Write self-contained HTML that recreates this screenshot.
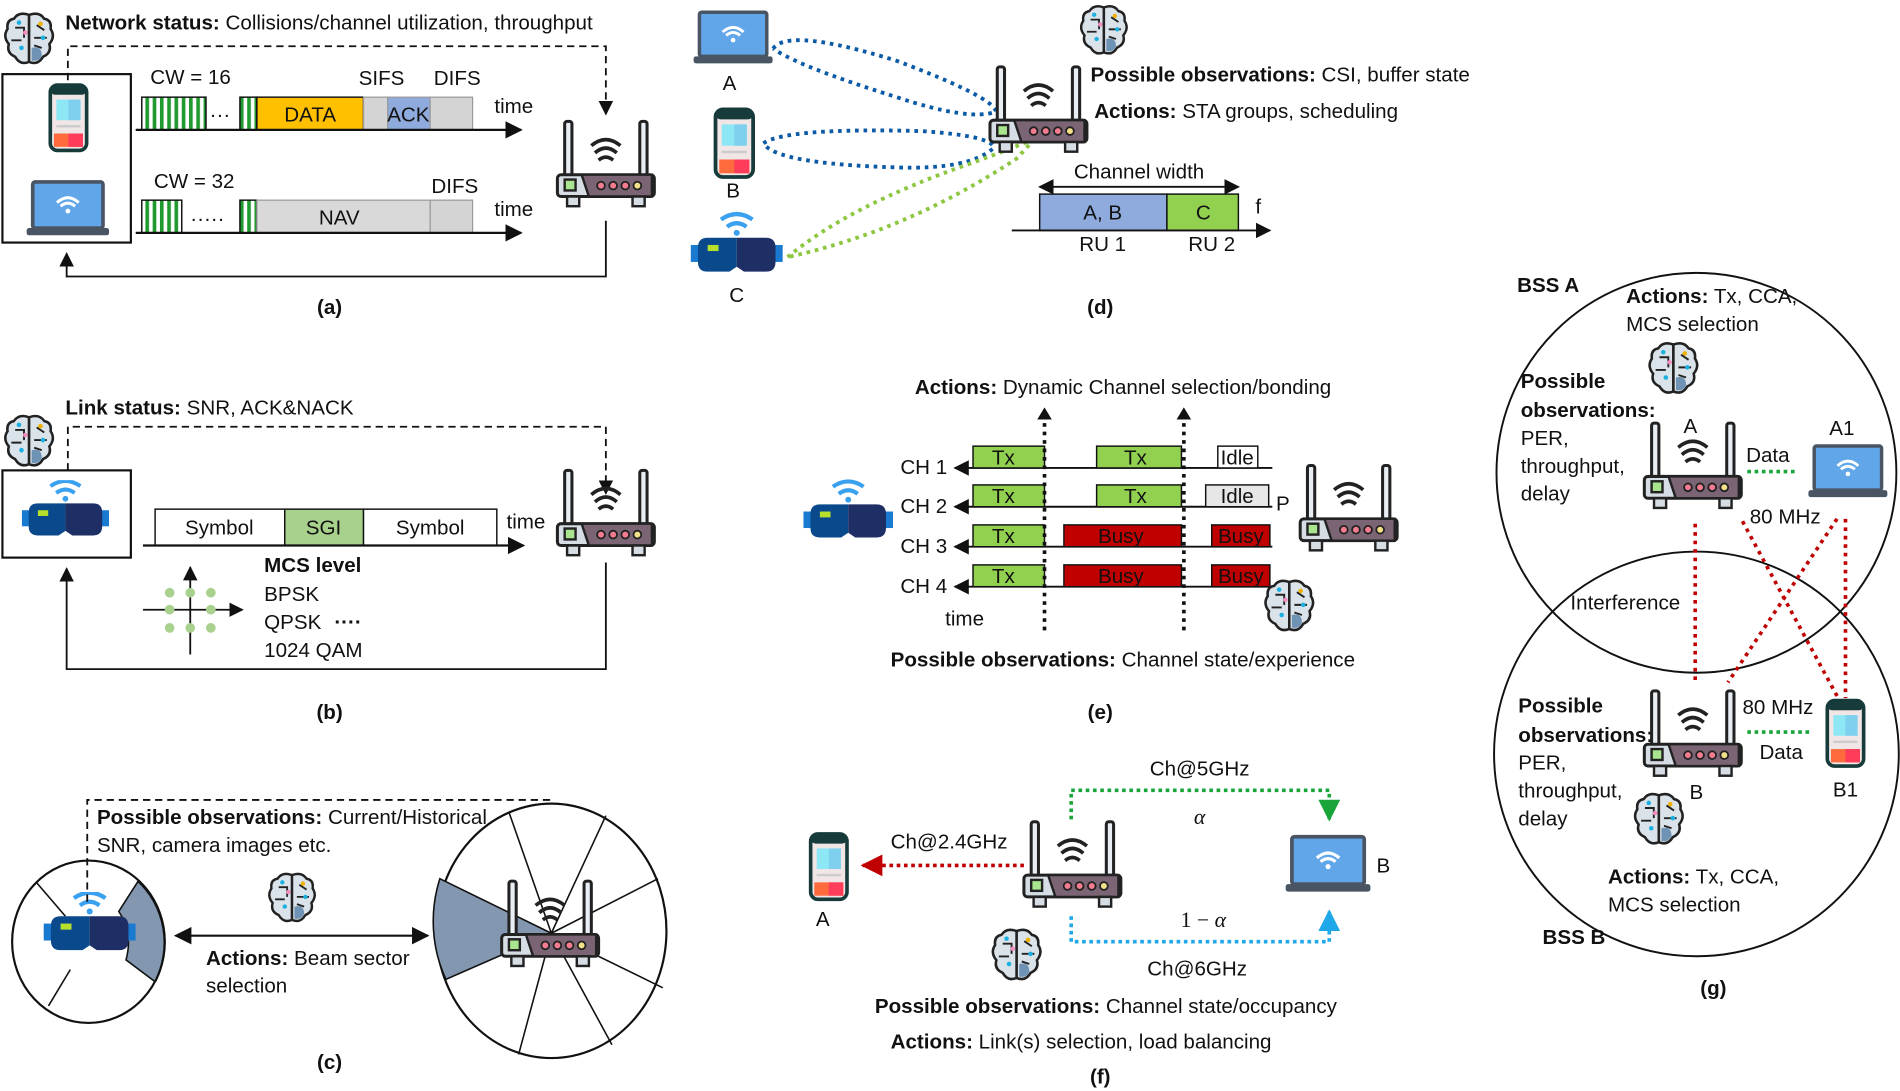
<!DOCTYPE html>
<html><head><meta charset="utf-8"><style>
html,body{margin:0;padding:0;background:#fff;}
svg{display:block;}
text{font-family:"Liberation Sans",sans-serif;font-size:17px;fill:#111;}
.b{font-weight:bold;}
</style></head><body>
<svg width="1900" height="1091" viewBox="0 0 1568 900" xmlns="http://www.w3.org/2000/svg">
<defs>
<marker id="ar" viewBox="0 0 10 10" refX="9" refY="5" markerWidth="8" markerHeight="8" orient="auto-start-reverse"><path d="M0,0 L10,5 L0,10 z" fill="#111"/></marker>
<marker id="arR" viewBox="0 0 10 10" refX="9" refY="5" markerWidth="6" markerHeight="6" orient="auto"><path d="M0,0 L10,5 L0,10 z" fill="#c00000"/></marker>
<marker id="arG" viewBox="0 0 10 10" refX="9" refY="5" markerWidth="6" markerHeight="6" orient="auto"><path d="M0,0 L10,5 L0,10 z" fill="#1aa53a"/></marker>
<marker id="arB" viewBox="0 0 10 10" refX="9" refY="5" markerWidth="6" markerHeight="6" orient="auto"><path d="M0,0 L10,5 L0,10 z" fill="#1fa8e8"/></marker>
<pattern id="stripe" width="6" height="10" patternUnits="userSpaceOnUse"><rect width="6" height="10" fill="#fff"/><rect width="3" height="10" fill="#1f9a2e"/></pattern>
<symbol id="router" viewBox="0 0 84 76">
<rect x="8" y="2" width="6" height="48" rx="2" fill="#e8eef3" stroke="#222" stroke-width="2.5"/>
<rect x="70" y="2" width="6" height="48" rx="2" fill="#e8eef3" stroke="#222" stroke-width="2.5"/>
<path d="M30,22 Q42,12 54,22 M33,28 Q42,20 51,28 M36,34 Q42,29 48,34" fill="none" stroke="#222" stroke-width="3"/>
<rect x="2" y="46" width="80" height="18" rx="3" fill="#d6dde4" stroke="#222" stroke-width="2.5"/>
<path d="M22,46 L80,46 L80,64 L28,64 Z" fill="#7b6574" stroke="#222" stroke-width="2"/>
<rect x="8" y="50" width="9" height="9" fill="#a9e58f" stroke="#222" stroke-width="2"/>
<circle cx="38" cy="55" r="3.2" fill="#f47c90" stroke="#222" stroke-width="1.5"/>
<circle cx="48" cy="55" r="3.2" fill="#f47c90" stroke="#222" stroke-width="1.5"/>
<circle cx="58" cy="55" r="3.2" fill="#f47c90" stroke="#222" stroke-width="1.5"/>
<circle cx="68" cy="55" r="3.2" fill="#f5e08a" stroke="#222" stroke-width="1.5"/>
<rect x="10" y="64" width="10" height="8" fill="#d6dde4" stroke="#222" stroke-width="2"/>
<rect x="64" y="64" width="10" height="8" fill="#d6dde4" stroke="#222" stroke-width="2"/>
</symbol>
<symbol id="phone" viewBox="0 0 34 58">
<rect x="2" y="2" width="30" height="54" rx="6" fill="#f1e6e6" stroke="#173b3b" stroke-width="3"/>
<rect x="2" y="2" width="30" height="8" rx="4" fill="#173b3b"/>
<rect x="7" y="14" width="20" height="17" fill="#8ee7f5"/><rect x="17" y="14" width="10" height="17" fill="#7fd0ee"/>
<rect x="7" y="35" width="20" height="2" fill="#ccc"/>
<rect x="5" y="42" width="24" height="11" fill="#ff6b3d"/><rect x="17" y="42" width="12" height="11" fill="#ff3d5a"/>
</symbol>
<symbol id="laptop" viewBox="0 0 70 48">
<rect x="6" y="2" width="58" height="38" rx="2" fill="#62a6ea" stroke="#4a5563" stroke-width="3"/>
<rect x="1" y="40" width="68" height="6" rx="2" fill="#4a5563"/>
<path d="M26,19 Q35,11 44,19 M29,22 Q35,17 41,22" fill="none" stroke="#fff" stroke-width="2.5"/>
<circle cx="35" cy="26" r="2" fill="#fff"/>
</symbol>
<symbol id="vr" viewBox="0 0 76 48">
<path d="M25,5 Q38,-4 51,5" fill="none" stroke="#3aa0f0" stroke-width="3.5"/>
<path d="M30,11 Q38,5 46,11" fill="none" stroke="#3aa0f0" stroke-width="3.5"/>
<circle cx="38" cy="16" r="2.5" fill="#3aa0f0"/>
<rect x="0" y="26" width="8" height="14" fill="#1a7ad0"/><rect x="68" y="26" width="8" height="14" fill="#1a7ad0"/>
<path d="M38,20 L14,20 Q6,20 6,28 L6,40 Q6,48 14,48 L32,48 L38,44 Z" fill="#0a4a8c"/>
<path d="M38,20 L62,20 Q70,20 70,28 L70,40 Q70,48 62,48 L44,48 L38,44 Z" fill="#1e2f66"/>
<rect x="14" y="26" width="9" height="5" fill="#b6e02a"/>
</symbol>
<symbol id="brain" viewBox="0 0 40 44">
<path d="M20,4 Q12,1 8,7 Q2,8 3,15 Q-1,21 4,27 Q2,34 9,37 Q13,44 20,41 Z" fill="#dbe3ea" stroke="#222" stroke-width="2"/>
<path d="M20,4 Q28,1 32,7 Q38,8 37,15 Q41,21 36,27 Q38,34 31,37 Q27,44 20,41 Z" fill="#dbe3ea" stroke="#222" stroke-width="2"/>
<path d="M22,30 Q30,28 30,36 Q28,41 22,40 Z" fill="#6f93b5"/>
<path d="M20,4 L20,41 M9,14 L16,14 L16,22 M6,24 L14,24 M26,12 L32,16 M24,22 L34,22 M24,28 L30,30" stroke="#222" stroke-width="1.5" fill="none"/>
<circle cx="12" cy="10" r="1.8" fill="#1ab0e0"/><circle cx="29" cy="11" r="1.8" fill="#f0b000"/><circle cx="14" cy="30" r="1.8" fill="#1ab0e0"/><circle cx="31" cy="22" r="1.8" fill="#1ab0e0"/><circle cx="17" cy="18" r="1.8" fill="#f48cc0"/>
</symbol>
</defs>

<!-- ===== (a) ===== -->
<use href="#brain" x="3" y="8" width="42" height="46"/>
<text x="54" y="24"><tspan class="b">Network status:</tspan> Collisions/channel utilization, throughput</text>
<rect x="2" y="61" width="106" height="139" fill="none" stroke="#111" stroke-width="1.8"/>
<path d="M56,66 L56,38 L500,38 L500,94" fill="none" stroke="#111" stroke-width="1.5" stroke-dasharray="6,4" marker-end="url(#ar)"/>
<use href="#phone" x="39" y="68" width="35" height="58"/>
<use href="#laptop" x="20" y="148" width="72" height="48"/>
<text x="124" y="69">CW = 16</text>
<rect x="117" y="80" width="53" height="27" fill="url(#stripe)" stroke="#111" stroke-width="1.2"/>
<text x="173" y="100">···</text>
<rect x="198" y="80" width="14" height="27" fill="url(#stripe)" stroke="#111" stroke-width="1.2"/>
<rect x="212" y="80" width="88" height="27" fill="#ffc000" stroke="#111" stroke-width="1.2"/>
<text x="256" y="100" text-anchor="middle">DATA</text>
<rect x="300" y="80" width="20" height="27" fill="#d4d4d4" stroke="#999" stroke-width="1"/>
<rect x="320" y="80" width="35" height="27" fill="#8faadc" stroke="#999" stroke-width="1"/>
<text x="337" y="100" text-anchor="middle">ACK</text>
<rect x="355" y="80" width="35" height="27" fill="#d4d4d4" stroke="#999" stroke-width="1"/>
<text x="296" y="70">SIFS</text><text x="358" y="70">DIFS</text>
<line x1="112" y1="107" x2="430" y2="107" stroke="#111" stroke-width="1.8" marker-end="url(#ar)"/>
<text x="408" y="93">time</text>
<text x="127" y="155">CW = 32</text>
<rect x="117" y="165" width="33" height="27" fill="url(#stripe)" stroke="#111" stroke-width="1.2"/>
<text x="157" y="186">·····</text>
<rect x="198" y="165" width="14" height="27" fill="url(#stripe)" stroke="#111" stroke-width="1.2"/>
<rect x="212" y="165" width="143" height="27" fill="#d9d9d9" stroke="#999" stroke-width="1"/>
<text x="280" y="185" text-anchor="middle">NAV</text>
<rect x="355" y="165" width="35" height="27" fill="#d4d4d4" stroke="#999" stroke-width="1"/>
<text x="356" y="159">DIFS</text>
<line x1="112" y1="192" x2="430" y2="192" stroke="#111" stroke-width="1.8" marker-end="url(#ar)"/>
<text x="408" y="178">time</text>
<use href="#router" x="458" y="98" width="84" height="76"/>
<path d="M500,182 L500,228 L55,228 L55,209" fill="none" stroke="#111" stroke-width="1.5" marker-end="url(#ar)"/>
<text x="272" y="259" class="b" text-anchor="middle">(a)</text>

<!-- ===== (b) ===== -->
<use href="#brain" x="3" y="340" width="42" height="46"/>
<text x="54" y="342"><tspan class="b">Link status:</tspan> SNR, ACK&amp;NACK</text>
<path d="M56,388 L56,352 L500,352 L500,407" fill="none" stroke="#111" stroke-width="1.5" stroke-dasharray="6,4" marker-end="url(#ar)"/>
<rect x="2" y="388" width="106" height="72" fill="none" stroke="#111" stroke-width="1.8"/>
<use href="#vr" x="18" y="396" width="72" height="46"/>
<rect x="128" y="420" width="107" height="30" fill="#fff" stroke="#111" stroke-width="1.2"/>
<text x="181" y="441" text-anchor="middle">Symbol</text>
<rect x="235" y="420" width="65" height="30" fill="#a9d18e" stroke="#111" stroke-width="1.2"/>
<text x="267" y="441" text-anchor="middle">SGI</text>
<rect x="300" y="420" width="110" height="30" fill="#fff" stroke="#111" stroke-width="1.2"/>
<text x="355" y="441" text-anchor="middle">Symbol</text>
<line x1="118" y1="450" x2="432" y2="450" stroke="#111" stroke-width="1.8" marker-end="url(#ar)"/>
<text x="418" y="436">time</text>
<use href="#router" x="458" y="386" width="84" height="76"/>
<path d="M500,464 L500,552 L55,552 L55,469" fill="none" stroke="#111" stroke-width="1.5" marker-end="url(#ar)"/>
<line x1="157" y1="540" x2="157" y2="468" stroke="#111" stroke-width="1.5" marker-end="url(#ar)"/>
<line x1="118" y1="503" x2="200" y2="503" stroke="#111" stroke-width="1.5" marker-end="url(#ar)"/>
<g fill="#a9d18e"><circle cx="140" cy="489" r="4"/><circle cx="157" cy="489" r="4"/><circle cx="174" cy="489" r="4"/><circle cx="140" cy="503" r="4"/><circle cx="174" cy="503" r="4"/><circle cx="140" cy="518" r="4"/><circle cx="157" cy="518" r="4"/><circle cx="174" cy="518" r="4"/></g>
<text x="218" y="472" class="b">MCS level</text>
<text x="218" y="496">BPSK</text>
<text x="218" y="519">QPSK <tspan class="b" dx="6">····</tspan></text>
<text x="218" y="542">1024 QAM</text>
<text x="272" y="593" class="b" text-anchor="middle">(b)</text>

<!-- ===== (c) ===== -->
<ellipse cx="73" cy="777" rx="63" ry="67" fill="#fff" stroke="#111" stroke-width="1.8"/>
<path d="M114,727 A63,67 0 0 1 128,810 L104,792 Q110,770 98,752 Z" fill="#8497b0"/>
<path d="M114,727 L98,752 Q110,770 104,792 L128,810" fill="none" stroke="#111" stroke-width="1.3"/>
<path d="M114,727 A63,67 0 0 1 128,810" fill="none" stroke="#111" stroke-width="1.8"/>
<line x1="30" y1="728" x2="54" y2="756" stroke="#111" stroke-width="1.3"/>
<line x1="40" y1="830" x2="58" y2="800" stroke="#111" stroke-width="1.3"/>
<use href="#vr" x="36" y="736" width="76" height="48"/>
<path d="M72,744 L72,660 L455,660 L455,702" fill="none" stroke="#111" stroke-width="1.5" stroke-dasharray="6,4"/>
<text x="80" y="680"><tspan class="b">Possible observations:</tspan> Current/Historical</text>
<text x="80" y="703">SNR, camera images etc.</text>
<use href="#brain" x="221" y="718" width="40" height="44"/>
<line x1="145" y1="772" x2="353" y2="772" stroke="#111" stroke-width="1.8" marker-start="url(#ar)" marker-end="url(#ar)"/>
<text x="170" y="796"><tspan class="b">Actions:</tspan> Beam sector</text>
<text x="170" y="819">selection</text>
<ellipse cx="455" cy="768" rx="95" ry="105" fill="#fff" stroke="#111" stroke-width="1.8"/>
<path d="M455,770 L363,725 A95,105 0 0 0 368,808 Z" fill="#8497b0" stroke="#111" stroke-width="1.3"/>
<g stroke="#111" stroke-width="1.3">
<line x1="455" y1="770" x2="420" y2="670"/><line x1="455" y1="770" x2="500" y2="673"/>
<line x1="455" y1="770" x2="543" y2="725"/><line x1="455" y1="770" x2="547" y2="815"/>
<line x1="455" y1="770" x2="505" y2="862"/><line x1="455" y1="770" x2="428" y2="870"/>
</g>
<use href="#router" x="412" y="725" width="84" height="76"/>
<text x="272" y="882" class="b" text-anchor="middle">(c)</text>

<!-- ===== (d) ===== -->
<use href="#laptop" x="570" y="8" width="70" height="46"/>
<text x="602" y="74" text-anchor="middle">A</text>
<use href="#phone" x="588" y="88" width="36" height="60"/>
<text x="605" y="163" text-anchor="middle">B</text>
<use href="#vr" x="570" y="172" width="76" height="56"/>
<text x="608" y="249" text-anchor="middle">C</text>
<g fill="none" stroke-width="3.2" stroke-dasharray="3,4">
<path d="M638,40 Q650,22 740,50 Q820,80 822,92 Q800,100 740,80 Q660,55 638,40" stroke="#0b5aa6"/>
<path d="M630,118 Q650,105 760,108 Q820,112 820,122 Q800,140 740,138 Q640,135 630,118" stroke="#0b5aa6"/>
<path d="M650,212 Q700,170 800,135 Q870,110 880,100 Q860,105 840,130 Q750,190 650,212" stroke="#8dc63f"/>
</g>
<use href="#router" x="815" y="53" width="84" height="76"/>
<use href="#brain" x="891" y="2" width="40" height="44"/>
<text x="900" y="67"><tspan class="b">Possible observations:</tspan> CSI, buffer state</text>
<text x="903" y="97"><tspan class="b">Actions:</tspan> STA groups, scheduling</text>
<text x="940" y="147" text-anchor="middle">Channel width</text>
<line x1="858" y1="154" x2="1022" y2="154" stroke="#111" stroke-width="1.6" marker-start="url(#ar)" marker-end="url(#ar)"/>
<rect x="858" y="160" width="105" height="30" fill="#8faadc" stroke="#111" stroke-width="1.2"/>
<text x="910" y="181" text-anchor="middle">A, B</text>
<rect x="963" y="160" width="59" height="30" fill="#92d050" stroke="#111" stroke-width="1.2"/>
<text x="993" y="181" text-anchor="middle">C</text>
<line x1="835" y1="190" x2="1048" y2="190" stroke="#111" stroke-width="1.6" marker-end="url(#ar)"/>
<text x="1036" y="176">f</text>
<text x="910" y="207" text-anchor="middle">RU 1</text><text x="1000" y="207" text-anchor="middle">RU 2</text>
<text x="908" y="259" class="b" text-anchor="middle">(d)</text>

<!-- ===== (e) ===== -->
<text x="755" y="325"><tspan class="b">Actions:</tspan> Dynamic Channel selection/bonding</text>
<g stroke="#111" stroke-width="1.6">
<line x1="1050" y1="386" x2="788" y2="386" marker-end="url(#ar)"/>
<line x1="1050" y1="418" x2="788" y2="418" marker-end="url(#ar)"/>
<line x1="1050" y1="451" x2="788" y2="451" marker-end="url(#ar)"/>
<line x1="1050" y1="484" x2="788" y2="484" marker-end="url(#ar)"/>
</g>
<text x="743" y="391">CH 1</text><text x="743" y="423">CH 2</text><text x="743" y="456">CH 3</text><text x="743" y="489">CH 4</text>
<g stroke="#111" stroke-width="1.2">
<rect x="803" y="368" width="59" height="18" fill="#92d050"/><rect x="803" y="400" width="59" height="18" fill="#92d050"/>
<rect x="803" y="433" width="59" height="18" fill="#92d050"/><rect x="803" y="466" width="59" height="18" fill="#92d050"/>
<rect x="905" y="368" width="70" height="18" fill="#92d050"/><rect x="905" y="400" width="70" height="18" fill="#92d050"/>
<rect x="878" y="433" width="97" height="18" fill="#c00000"/><rect x="878" y="466" width="97" height="18" fill="#c00000"/>
<rect x="1005" y="368" width="33" height="18" fill="#fff"/><rect x="995" y="400" width="52" height="18" fill="#e7e7e7"/>
<rect x="1000" y="433" width="48" height="18" fill="#c00000"/><rect x="1000" y="466" width="48" height="18" fill="#c00000"/>
</g>
<g text-anchor="middle">
<text x="828" y="383">Tx</text><text x="828" y="415">Tx</text><text x="828" y="448">Tx</text><text x="828" y="481">Tx</text>
<text x="937" y="383">Tx</text><text x="937" y="415">Tx</text>
<text x="925" y="448">Busy</text><text x="925" y="481">Busy</text>
<text x="1021" y="383">Idle</text><text x="1021" y="415">Idle</text>
<text x="1024" y="448">Busy</text><text x="1024" y="481">Busy</text>
</g>
<g stroke="#111" stroke-width="3" stroke-dasharray="3,4">
<line x1="862" y1="520" x2="862" y2="346"/><line x1="977" y1="520" x2="977" y2="346"/>
</g>
<path d="M856,346 L862,336 L868,346 Z M971,346 L977,336 L983,346 Z" fill="#111"/>
<use href="#vr" x="663" y="392" width="74" height="56"/>
<text x="1053" y="421">P</text>
<use href="#router" x="1071" y="382" width="84" height="76"/>
<use href="#brain" x="1043" y="476" width="42" height="46"/>
<text x="780" y="516">time</text>
<text x="735" y="550"><tspan class="b">Possible observations:</tspan> Channel state/experience</text>
<text x="908" y="593" class="b" text-anchor="middle">(e)</text>

<!-- ===== (f) ===== -->
<use href="#phone" x="666" y="686" width="36" height="58"/>
<text x="679" y="764" text-anchor="middle">A</text>
<line x1="845" y1="714" x2="712" y2="714" stroke="#c00000" stroke-width="3" stroke-dasharray="3,3" marker-end="url(#arR)"/>
<text x="735" y="700">Ch@2.4GHz</text>
<use href="#router" x="843" y="676" width="84" height="76"/>
<use href="#laptop" x="1060" y="688" width="72" height="50"/>
<text x="1136" y="720">B</text>
<path d="M884,676 L884,652 L1097,652 L1097,676" fill="none" stroke="#1aa53a" stroke-width="3" stroke-dasharray="3,3" marker-end="url(#arG)"/>
<path d="M884,756 L884,777 L1097,777 L1097,752" fill="none" stroke="#1fa8e8" stroke-width="3" stroke-dasharray="3,3" marker-end="url(#arB)"/>
<text x="990" y="640" text-anchor="middle">Ch@5GHz</text>
<text x="990" y="680" text-anchor="middle" font-style="italic" style="font-family:'Liberation Serif',serif;font-size:18px">α</text>
<text x="993" y="765" text-anchor="middle" style="font-family:'Liberation Serif',serif;font-size:18px">1 − <tspan font-style="italic">α</tspan></text>
<text x="988" y="805" text-anchor="middle">Ch@6GHz</text>
<use href="#brain" x="818" y="764" width="42" height="46"/>
<text x="722" y="836"><tspan class="b">Possible observations:</tspan> Channel state/occupancy</text>
<text x="735" y="865"><tspan class="b">Actions:</tspan> Link(s) selection, load balancing</text>
<text x="908" y="894" class="b" text-anchor="middle">(f)</text>

<!-- ===== (g) ===== -->
<circle cx="1400" cy="390" r="165" fill="none" stroke="#111" stroke-width="1.6"/>
<circle cx="1400" cy="622" r="167" fill="none" stroke="#111" stroke-width="1.6"/>
<text x="1252" y="241" class="b">BSS A</text>
<text x="1342" y="250"><tspan class="b">Actions:</tspan> Tx, CCA,</text>
<text x="1342" y="273">MCS selection</text>
<use href="#brain" x="1360" y="280" width="42" height="46"/>
<text x="1255" y="320" class="b">Possible</text>
<text x="1255" y="344" class="b">observations:</text>
<text x="1255" y="367">PER,</text><text x="1255" y="390">throughput,</text><text x="1255" y="413">delay</text>
<text x="1395" y="357" text-anchor="middle">A</text>
<use href="#router" x="1355" y="347" width="84" height="76"/>
<text x="1520" y="359" text-anchor="middle">A1</text>
<use href="#laptop" x="1490" y="366" width="70" height="46"/>
<text x="1441" y="381">Data</text>
<line x1="1442" y1="389" x2="1484" y2="389" stroke="#1aa53a" stroke-width="3" stroke-dasharray="3,3"/>
<text x="1444" y="432">80 MHz</text>
<g stroke="#c00000" stroke-width="3" stroke-dasharray="3,4">
<line x1="1399" y1="432" x2="1399" y2="562"/>
<line x1="1438" y1="430" x2="1517" y2="576"/>
<line x1="1516" y1="428" x2="1426" y2="563"/>
<line x1="1523" y1="428" x2="1523" y2="576"/>
</g>
<text x="1296" y="503">Interference</text>
<text x="1253" y="588" class="b">Possible</text>
<text x="1253" y="612" class="b">observations:</text>
<text x="1253" y="635">PER,</text><text x="1253" y="658">throughput,</text><text x="1253" y="681">delay</text>
<use href="#router" x="1355" y="568" width="84" height="76"/>
<text x="1400" y="659" text-anchor="middle">B</text>
<text x="1438" y="589">80 MHz</text>
<line x1="1442" y1="604" x2="1494" y2="604" stroke="#1aa53a" stroke-width="3" stroke-dasharray="3,3"/>
<text x="1452" y="626">Data</text>
<use href="#phone" x="1504" y="576" width="38" height="58"/>
<text x="1523" y="657" text-anchor="middle">B1</text>
<use href="#brain" x="1348" y="652" width="42" height="46"/>
<text x="1327" y="729"><tspan class="b">Actions:</tspan> Tx, CCA,</text>
<text x="1327" y="752">MCS selection</text>
<text x="1273" y="779" class="b">BSS B</text>
<text x="1414" y="821" class="b" text-anchor="middle">(g)</text>
</svg>
</body></html>
